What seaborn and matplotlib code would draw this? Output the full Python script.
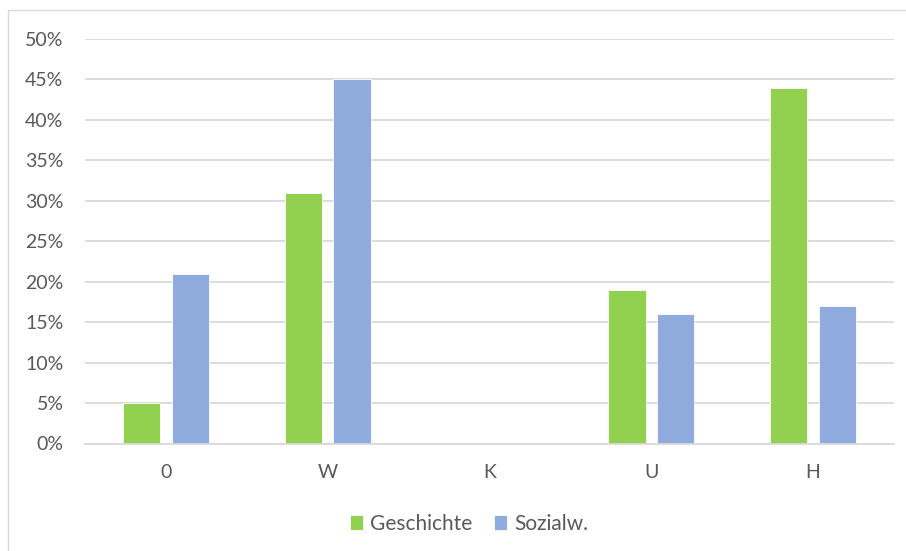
import matplotlib
matplotlib.use("Agg")
import matplotlib.pyplot as plt
from matplotlib.patches import Rectangle
from matplotlib.ticker import FuncFormatter, MultipleLocator
import seaborn as sns
import pandas as pd

# Shares per category for the two subjects
categories = ["0", "W", "K", "U", "H"]
geschichte = [0.05, 0.31, 0.0, 0.19, 0.44]
sozialw = [0.21, 0.45, 0.0, 0.16, 0.17]
series_names = ["Geschichte", "Sozialw."]
colors = ["#92D050", "#8FAADC"]

df = pd.DataFrame({
    "Kategorie": categories * 2,
    "Anteil": geschichte + sozialw,
    "Fach": [series_names[0]] * len(categories) + [series_names[1]] * len(categories),
})

sns.set_theme(style="white")
plt.rcParams["font.family"] = ["Lato", "DejaVu Sans"]
text_color = "#595959"
grid_color = "#D9D9D9"

fig = plt.figure(figsize=(9.06, 5.51), dpi=100)
fig.patch.set_facecolor("white")
# chart frame (top and left edges visible)
fig.add_artist(Rectangle((8 / 906, -0.05), 1.2, 1 - 10 / 551 + 0.05,
                         transform=fig.transFigure, fill=False,
                         edgecolor="#D9D9D9", linewidth=1.0))

ax = fig.add_axes([85 / 906, 1 - 443.5 / 551, (894 - 85) / 906, (443.5 - 39) / 551])

sns.barplot(data=df, x="Kategorie", y="Anteil", hue="Fach", order=categories,
            hue_order=series_names, palette=colors, width=0.6, gap=0.235,
            saturation=1, edgecolor="white", linewidth=0.6, ax=ax, legend=True)

ax.set_ylim(0, 0.5)
ax.set_xlim(-0.5, len(categories) - 0.5)
ax.yaxis.set_major_locator(MultipleLocator(0.05))
ax.yaxis.set_major_formatter(FuncFormatter(lambda v, _: f"{round(v * 100)}%"))
ax.grid(axis="y", color=grid_color, linewidth=1.3)
ax.set_axisbelow(True)
for side in ["top", "right", "left"]:
    ax.spines[side].set_visible(False)
ax.spines["bottom"].set_color(grid_color)
ax.spines["bottom"].set_linewidth(1.3)
ax.set_xlabel("")
ax.set_ylabel("")
ax.tick_params(axis="y", length=0, pad=15.5, labelsize=14, labelcolor=text_color)
ax.tick_params(axis="x", length=0, pad=15, labelsize=14, labelcolor=text_color)

handles, labels = ax.get_legend_handles_labels()
ax.legend(handles, labels, loc="center", bbox_to_anchor=(469 / 906, 1 - 524 / 551),
          bbox_transform=fig.transFigure, ncol=2, frameon=False, fontsize=15,
          labelcolor=text_color, handlelength=0.6, handleheight=0.7,
          handletextpad=0.35, columnspacing=1.05)

fig.savefig("out.png", dpi=100, facecolor="white")
